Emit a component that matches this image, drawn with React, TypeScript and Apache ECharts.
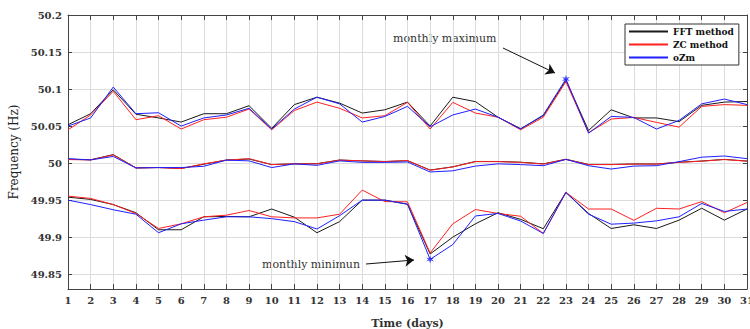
import React, { useEffect, useRef } from "react";
import * as echarts from "echarts";

const days = ["1","2","3","4","5","6","7","8","9","10","11","12","13","14","15","16","17","18","19","20","21","22","23","24","25","26","27","28","29","30","31"];
const yTickValues = [49.85, 49.9, 49.95, 50, 50.05, 50.1, 50.15, 50.2];
const legendNames = ["FFT method", "ZC method", "oZm"];

const fftUpper = [50.0518, 50.0667, 50.099, 50.066, 50.061, 50.0554, 50.0667, 50.0667, 50.0775, 50.047, 50.079, 50.089, 50.081, 50.0676, 50.072, 50.0824, 50.05, 50.089, 50.083, 50.062, 50.0465, 50.064, 50.1117, 50.044, 50.072, 50.061, 50.061, 50.056, 50.078, 50.0824, 50.0832];
const zcUpper = [50.045, 50.065, 50.097, 50.0586, 50.064, 50.046, 50.0586, 50.062, 50.073, 50.045, 50.071, 50.0824, 50.074, 50.061, 50.064, 50.082, 50.046, 50.082, 50.0676, 50.062, 50.045, 50.062, 50.11, 50.041, 50.0595, 50.0617, 50.055, 50.0486, 50.0766, 50.079, 50.078];
const ozmUpper = [50.05, 50.061, 50.1027, 50.0667, 50.068, 50.05, 50.061, 50.065, 50.074, 50.046, 50.073, 50.089, 50.08, 50.0554, 50.063, 50.0766, 50.049, 50.065, 50.073, 50.062, 50.046, 50.065, 50.1135, 50.0405, 50.063, 50.0617, 50.046, 50.0577, 50.08, 50.0865, 50.079];

const fftMid = [50.0052, 50.0045, 50.0115, 49.9935, 49.994, 49.9928, 49.9985, 50.0042, 50.0055, 49.998, 49.999, 49.9992, 50.0042, 50.003, 50.0022, 50.0032, 49.9906, 49.995, 50.0022, 50.0022, 50.0012, 49.999, 50.0052, 49.9982, 49.9982, 49.9988, 49.9988, 50.0012, 50.0028, 50.005, 50.0028];
const zcMid = [50.0048, 50.0043, 50.011, 49.9935, 49.994, 49.9926, 49.999, 50.004, 50.006, 49.998, 49.999, 49.999, 50.004, 50.003, 50.002, 50.0035, 49.9904, 49.9948, 50.002, 50.002, 50.001, 49.9987, 50.005, 49.998, 49.998, 49.9987, 49.9987, 50.001, 50.0026, 50.0048, 50.0026];
const ozmMid = [50.006, 50.0043, 50.009, 49.9935, 49.994, 49.994, 49.9957, 50.004, 50.003, 49.994, 49.999, 49.997, 50.003, 50.001, 50.001, 50.0015, 49.988, 49.9896, 49.996, 49.999, 49.998, 49.9965, 50.005, 49.9965, 49.992, 49.996, 49.9965, 50.002, 50.008, 50.0096, 50.006];

const fftLow = [49.954, 49.951, 49.944, 49.933, 49.91, 49.91, 49.9275, 49.928, 49.9275, 49.938, 49.927, 49.906, 49.921, 49.95, 49.95, 49.9445, 49.8773, 49.9, 49.918, 49.933, 49.924, 49.9114, 49.9605, 49.932, 49.9117, 49.9167, 49.9117, 49.923, 49.939, 49.923, 49.938];
const zcLow = [49.9554, 49.9523, 49.944, 49.932, 49.9117, 49.918, 49.9275, 49.9297, 49.936, 49.9275, 49.926, 49.926, 49.931, 49.9636, 49.948, 49.9477, 49.8786, 49.918, 49.9373, 49.932, 49.9282, 49.905, 49.9605, 49.938, 49.938, 49.9227, 49.939, 49.938, 49.948, 49.933, 49.9468];
const ozmLow = [49.95, 49.944, 49.937, 49.931, 49.906, 49.918, 49.923, 49.9275, 49.9275, 49.925, 49.921, 49.911, 49.929, 49.95, 49.95, 49.9445, 49.87, 49.89, 49.9286, 49.932, 49.9218, 49.905, 49.9605, 49.931, 49.9175, 49.919, 49.922, 49.9275, 49.9455, 49.9347, 49.938];

const maxDayIndex = 22;
const minDayIndex = 16;

const FONT = "DejaVu Serif";
const AXIS_COLOR = "#444";
const GRID_COLOR = "#dcdcdc";
const COLORS = { fft: "#1a1a1a", zc: "#ff2020", ozm: "#1f1fff" };

function lineSeries(name: string, data: number[], color: string) {
  return {
    type: "line",
    name,
    data,
    symbol: "none",
    lineStyle: { width: 1, color },
    itemStyle: { color },
    emphasis: { disabled: true },
  };
}

const STAR =
  "path://M0,-10 L2,-3 L8.7,-5 L4,0 L8.7,5 L2,3 L0,10 L-2,3 L-8.7,5 L-4,0 L-8.7,-5 L-2,-3 Z";

export default function App() {
  const ref = useRef<HTMLDivElement>(null);
  useEffect(() => {
    if (!ref.current) return;
    const chart = echarts.init(ref.current, undefined, { renderer: "svg" });
    const yLabelFmt = (v: number) => String(Number(v.toFixed(2)));
    const option: any = {
      animation: false,
      grid: { left: 68, right: 3, top: 15, bottom: 40, containLabel: false, outerBoundsMode: "none" },
      legend: {
        data: legendNames,
        orient: "vertical",
        left: 625,
        top: 24,
        itemWidth: 39,
        itemHeight: 10,
        itemGap: 4,
        padding: [3, 5, 3, 3],
        backgroundColor: "#fff",
        borderColor: "#333",
        borderWidth: 1,
        borderRadius: 0,
        itemStyle: { opacity: 0 },
        textStyle: { fontFamily: FONT, fontWeight: "bold", fontSize: 9, color: "#111" },
      },
      xAxis: [
        {
          type: "category",
          data: days,
          boundaryGap: false,
          position: "bottom",
          axisLine: { show: true, lineStyle: { color: AXIS_COLOR } },
          axisTick: { show: true, inside: true, length: 5, interval: 0, lineStyle: { color: AXIS_COLOR } },
          axisLabel: { interval: 0, color: "#333", fontFamily: FONT, fontWeight: "bold", fontSize: 10, margin: 6 },
          splitLine: { show: true, interval: 0, lineStyle: { color: GRID_COLOR, width: 1 } },
          name: "Time (days)",
          nameLocation: "middle",
          nameGap: 29,
          nameTextStyle: { fontFamily: FONT, fontWeight: "bold", fontSize: 11, color: "#333" },
        },
        {
          type: "category",
          data: days,
          boundaryGap: false,
          position: "top",
          axisLine: { show: true, lineStyle: { color: AXIS_COLOR } },
          axisTick: { show: true, inside: true, length: 5, interval: 0, lineStyle: { color: AXIS_COLOR } },
          axisLabel: { show: false },
          splitLine: { show: false },
        },
      ],
      yAxis: [
        {
          type: "value",
          min: 49.83,
          max: 50.2,
          position: "left",
          axisLine: { show: true, lineStyle: { color: AXIS_COLOR } },
          axisTick: { show: true, inside: true, length: 4, customValues: yTickValues, lineStyle: { color: AXIS_COLOR } },
          axisLabel: {
            customValues: yTickValues,
            formatter: yLabelFmt,
            color: "#333",
            fontFamily: FONT,
            fontWeight: "bold",
            fontSize: 10,
            margin: 6,
          },
          splitLine: { show: true, lineStyle: { color: GRID_COLOR, width: 1 } },
          name: "Frequency (Hz)",
          nameLocation: "middle",
          nameGap: 48,
          nameTextStyle: { fontFamily: FONT, fontSize: 12, color: "#222" },
        },
        {
          type: "value",
          min: 49.83,
          max: 50.2,
          position: "right",
          axisLine: { show: true, lineStyle: { color: AXIS_COLOR } },
          axisTick: { show: true, inside: true, length: 4, customValues: yTickValues, lineStyle: { color: AXIS_COLOR } },
          axisLabel: { show: false, customValues: yTickValues },
          splitLine: { show: false },
        },
      ],
      series: [
        lineSeries(legendNames[0], fftUpper, COLORS.fft),
        lineSeries(legendNames[0], fftMid, COLORS.fft),
        lineSeries(legendNames[0], fftLow, COLORS.fft),
        lineSeries(legendNames[1], zcUpper, COLORS.zc),
        lineSeries(legendNames[1], zcMid, COLORS.zc),
        lineSeries(legendNames[1], zcLow, COLORS.zc),
        lineSeries(legendNames[2], ozmUpper, COLORS.ozm),
        lineSeries(legendNames[2], ozmMid, COLORS.ozm),
        lineSeries(legendNames[2], ozmLow, COLORS.ozm),
        {
          type: "scatter",
          name: "extremes",
          symbol: STAR,
          symbolSize: 8,
          itemStyle: { color: COLORS.ozm },
          data: [
            [days[maxDayIndex], ozmUpper[maxDayIndex]],
            [days[minDayIndex], ozmLow[minDayIndex]],
          ],
          z: 5,
          markLine: {
            silent: true,
            symbol: ["none", "arrow"],
            symbolSize: 9,
            lineStyle: { color: "#111", width: 1, type: "solid" },
            label: { show: false },
            emphasis: { disabled: true },
            data: [
              [{ x: 503, y: 48 }, { x: 555, y: 73 }],
              [{ x: 366, y: 264 }, { x: 414, y: 260 }],
            ],
          },
        },
      ],
      graphic: [
        {
          type: "text",
          x: 393,
          y: 38,
          style: { text: "monthly maximum", font: `11px '${FONT}'`, fill: "#333", textVerticalAlign: "middle" },
        },
        {
          type: "text",
          x: 262,
          y: 264,
          style: { text: "monthly minimun", font: `11px '${FONT}'`, fill: "#333", textVerticalAlign: "middle" },
        },
      ],
    };
    chart.setOption(option);
    return () => chart.dispose();
  }, []);
  return <div ref={ref} style={{ position: "fixed", left: 0, top: 0, width: 750, height: 329, background: "#fff" }} />;
}
